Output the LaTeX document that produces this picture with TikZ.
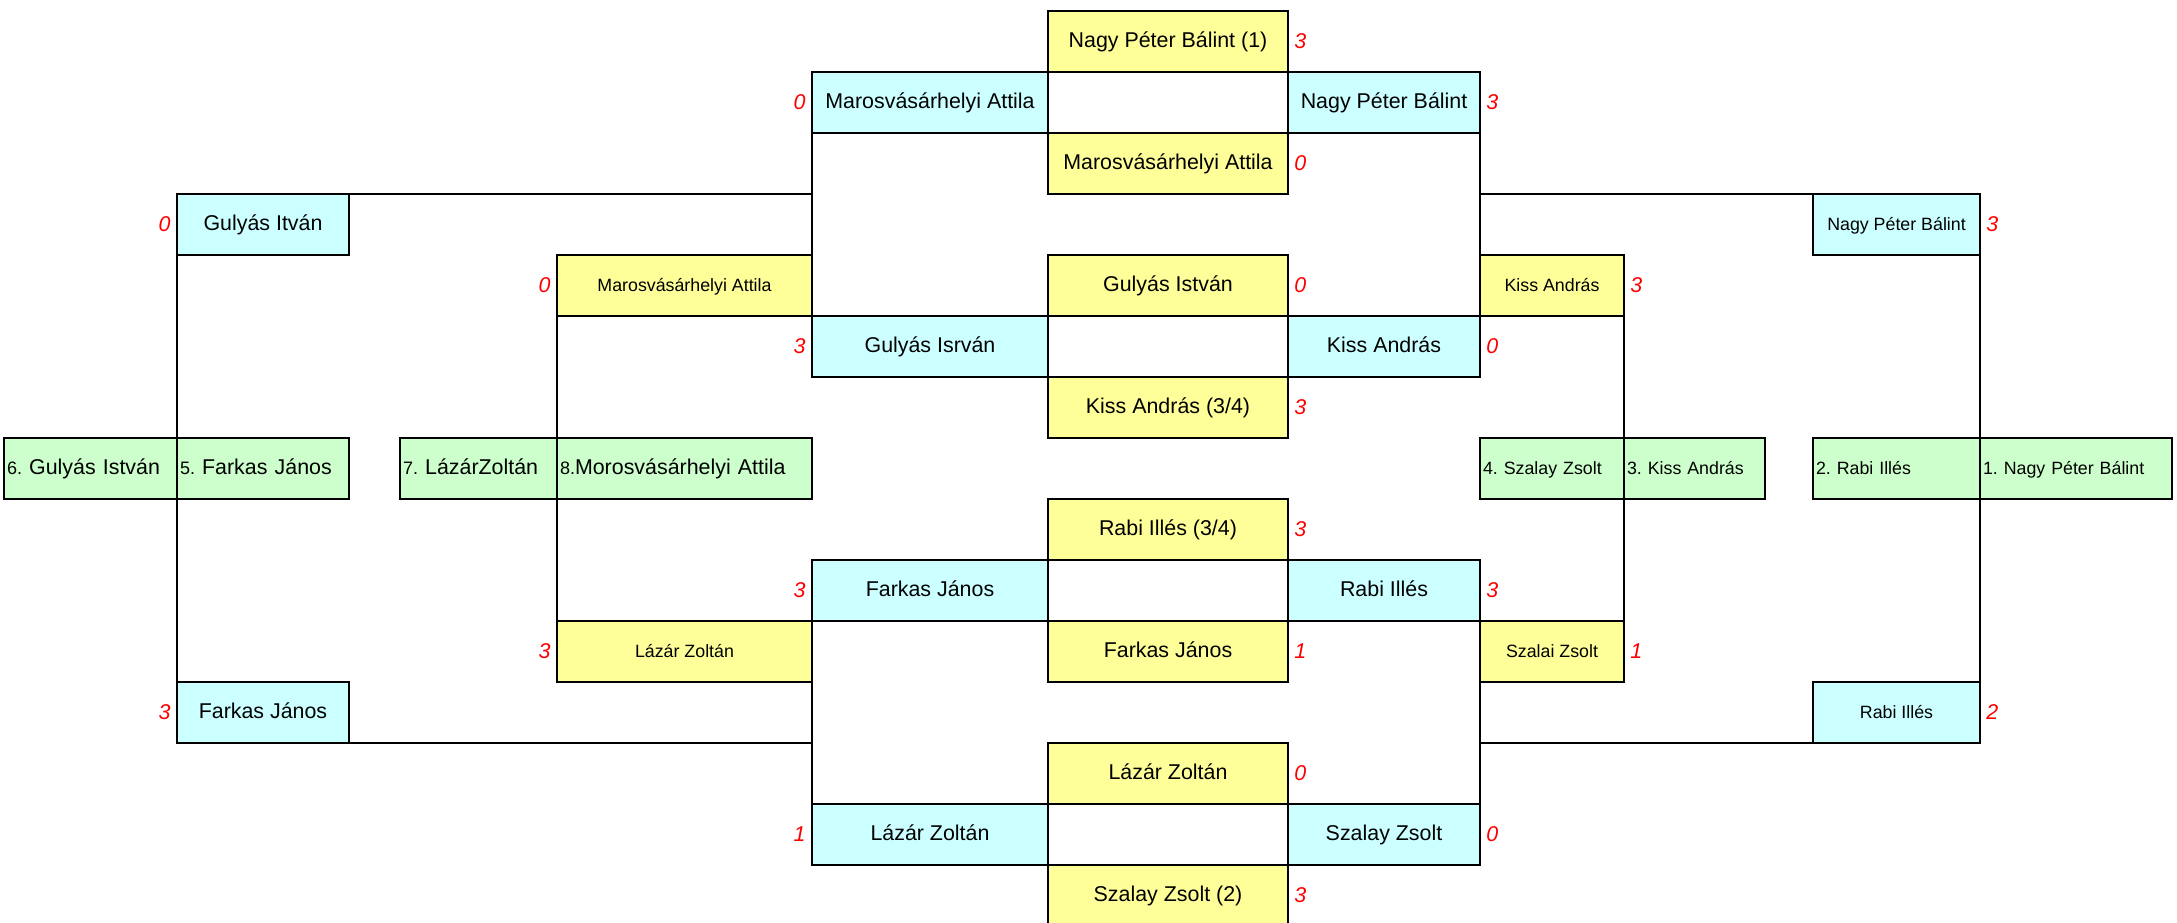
\documentclass[tikz,border=0pt]{standalone}
\usepackage{fontspec}
\setmainfont{Liberation Sans}
\frenchspacing
\definecolor{cblue}{HTML}{CCFFFF}
\definecolor{cyel}{HTML}{FFFF99}
\definecolor{cgreen}{HTML}{CCFFCC}
\definecolor{cred}{HTML}{FF0000}
\newcommand\bigf{\fontsize{10.7}{12}\selectfont\frenchspacing}
\newcommand\smallf{\fontsize{8.9}{10}\selectfont\frenchspacing}
\newcommand\numf{\fontsize{9}{10}\selectfont}
\tikzset{
  cell/.style={draw=black, line width=1.1pt, minimum height=30.5pt, inner sep=0pt, outer sep=0pt,
    font=\bigf, text height=7.7pt, text depth=2.2pt},
  wd/.style={minimum width=#1*0.5pt},
  bluecell/.style={cell, fill=cblue},
  yelcell/.style={cell, fill=cyel},
  greencell/.style={cell, fill=cgreen, align=left, minimum width=#1*0.5pt, text width=#1*0.5pt-3pt},
  small/.style={font=\smallf},
  connector/.style={line width=1.1pt, draw=black, line cap=rect},
  score/.style={font=\bigf\itshape, text=cred, inner sep=0pt},
}
\begin{document}
\begin{tikzpicture}[x=0.5pt,y=-0.5pt]
\useasboundingbox (0,0) rectangle (2177,922);
\clip (0,0) rectangle (2177,922);
% row 0
\node[yelcell, wd=240] (y0) at (1168,41.5) {Nagy Péter Bálint (1)};
% row 1
\node[bluecell, wd=236] (b1L) at (930,102.5) {Marosvásárhelyi Attila};
\node[bluecell, wd=192] (b1R) at (1384,102.5) {Nagy Péter Bálint};
% row 2
\node[yelcell, wd=240] (y2) at (1168,163.5) {Marosvásárhelyi Attila};
% row 3
\node[bluecell, wd=172] (b3L) at (263,224.5) {Gulyás Itván};
\node[bluecell, small, wd=167] (b3R) at (1896.5,224.5) {Nagy Péter Bálint};
% row 4
\node[yelcell, small, wd=255] (y4L) at (684.5,285.5) {Marosvásárhelyi Attila};
\node[yelcell, wd=240] (y4C) at (1168,285.5) {Gulyás István};
\node[yelcell, small, wd=144] (y4R) at (1552,285.5) {Kiss András};
% row 5
\node[bluecell, wd=236] (b5L) at (930,346.5) {Gulyás Isrván};
\node[bluecell, wd=192] (b5R) at (1384,346.5) {Kiss András};
% row 6
\node[yelcell, wd=240] (y6) at (1168,407.5) {Kiss András (3/4)};
% row 7 (green)
\node[greencell=173] (g6) at (90.5,468.5) {{\numf 6.} Gulyás István};
\node[greencell=172] (g5) at (263,468.5) {{\numf 5.} Farkas János};
\node[greencell=157] (g7) at (478.5,468.5) {{\numf 7.} LázárZoltán};
\node[greencell=255] (g8) at (684.5,468.5) {{\numf 8.}Morosvásárhelyi Attila};
\node[greencell=144, small] (g4) at (1552,468.5) {4. Szalay Zsolt};
\node[greencell=141, small] (g3) at (1694.5,468.5) {3. Kiss András};
\node[greencell=167, small] (g2) at (1896.5,468.5) {2. Rabi Illés};
\node[greencell=192, small] (g1) at (2076,468.5) {1. Nagy Péter Bálint};
% row 8
\node[yelcell, wd=240] (y8) at (1168,529.5) {Rabi Illés (3/4)};
% row 9
\node[bluecell, wd=236] (b9L) at (930,590.5) {Farkas János};
\node[bluecell, wd=192] (b9R) at (1384,590.5) {Rabi Illés};
% row 10
\node[yelcell, small, wd=255] (y10L) at (684.5,651.5) {Lázár Zoltán};
\node[yelcell, wd=240] (y10C) at (1168,651.5) {Farkas János};
\node[yelcell, small, wd=144] (y10R) at (1552,651.5) {Szalai Zsolt};
% row 11
\node[bluecell, wd=172] (b11L) at (263,712.5) {Farkas János};
\node[bluecell, small, wd=167] (b11R) at (1896.5,712.5) {Rabi Illés};
% row 12
\node[yelcell, wd=240] (y12) at (1168,773.5) {Lázár Zoltán};
% row 13
\node[bluecell, wd=236] (b13L) at (930,834.5) {Lázár Zoltán};
\node[bluecell, wd=192] (b13R) at (1384,834.5) {Szalay Zsolt};
% row 14
\node[yelcell, wd=240] (y14) at (1168,895.5) {Szalay Zsolt (2)};

% scores
\node[score, anchor=west] (sy0) at ([xshift=3pt]y0.east) {3};
\node[score, anchor=east] (sb1L) at ([xshift=-3pt]b1L.west) {0};
\node[score, anchor=west] (sb1R) at ([xshift=3pt]b1R.east) {3};
\node[score, anchor=west] (sy2) at ([xshift=3pt]y2.east) {0};
\node[score, anchor=east] (sb3L) at ([xshift=-3pt]b3L.west) {0};
\node[score, anchor=west] (sb3R) at ([xshift=3pt]b3R.east) {3};
\node[score, anchor=east] (sy4L) at ([xshift=-3pt]y4L.west) {0};
\node[score, anchor=west] (sy4C) at ([xshift=3pt]y4C.east) {0};
\node[score, anchor=west] (sy4R) at ([xshift=3pt]y4R.east) {3};
\node[score, anchor=east] (sb5L) at ([xshift=-3pt]b5L.west) {3};
\node[score, anchor=west] (sb5R) at ([xshift=3pt]b5R.east) {0};
\node[score, anchor=west] (sy6) at ([xshift=3pt]y6.east) {3};
\node[score, anchor=west] (sy8) at ([xshift=3pt]y8.east) {3};
\node[score, anchor=east] (sb9L) at ([xshift=-3pt]b9L.west) {3};
\node[score, anchor=west] (sb9R) at ([xshift=3pt]b9R.east) {3};
\node[score, anchor=east] (sy10L) at ([xshift=-3pt]y10L.west) {3};
\node[score, anchor=west] (sy10C) at ([xshift=3pt]y10C.east) {1};
\node[score, anchor=west] (sy10R) at ([xshift=3pt]y10R.east) {1};
\node[score, anchor=east] (sb11L) at ([xshift=-3pt]b11L.west) {3};
\node[score, anchor=west] (sb11R) at ([xshift=3pt]b11R.east) {2};
\node[score, anchor=west] (sy12) at ([xshift=3pt]y12.east) {0};
\node[score, anchor=east] (sb13L) at ([xshift=-3pt]b13L.west) {1};
\node[score, anchor=west] (sb13R) at ([xshift=3pt]b13R.east) {0};
\node[score, anchor=west] (sy14) at ([xshift=3pt]y14.east) {3};

% connectors, left half
\draw[connector] (b3L.north west) -- (b3L.north west -| b1L.south west);
\draw[connector] (b3L.south west) -- (b11L.north west);
\draw[connector] (b11L.south east) -- (b11L.south east -| b13L.north west);
\draw[connector] (b1L.south west) -- (y4L.north east);
\draw[connector] (y10L.south east) -- (b13L.north west);
\draw[connector] (y4L.south west) -- (y10L.north west);
% connectors, right half
\draw[connector] (b1R.south east) -- (y4R.north west);
\draw[connector] (b3R.north west) -- (b3R.north west -| b1R.south east);
\draw[connector] (y4R.south east) -- (y10R.north east);
\draw[connector] (b3R.south east) -- (b11R.north east);
\draw[connector] (b11R.south west) -- (b11R.south west -| b13R.north east);
\draw[connector] (y10R.south west) -- (b13R.north east);
\end{tikzpicture}
\end{document}
